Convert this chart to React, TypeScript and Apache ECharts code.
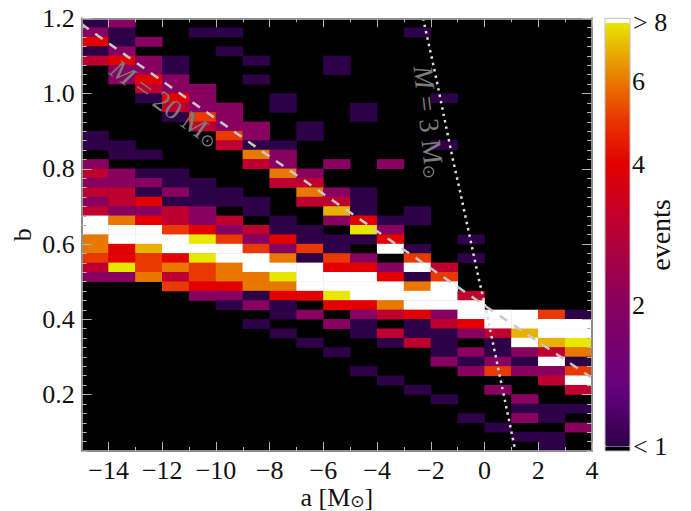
import React, { useEffect, useRef } from "react";
import * as echarts from "echarts";

const aBins = [-15, -14, -13, -12, -11, -10, -9, -8, -7, -6, -5, -4, -3, -2, -1, 0, 1, 2, 3];
const bBins = ["1.175", "1.150", "1.125", "1.100", "1.075", "1.050", "1.025", "1.000", "0.975", "0.950", "0.925", "0.900", "0.875", "0.850", "0.825", "0.800", "0.775", "0.750", "0.725", "0.700", "0.675", "0.650", "0.625", "0.600", "0.575", "0.550", "0.525", "0.500", "0.475", "0.450", "0.425", "0.400", "0.375", "0.350", "0.325", "0.300", "0.275", "0.250", "0.225", "0.200", "0.175", "0.150", "0.125", "0.100", "0.075", "0.050"];
// events per cell, top row first; 9 stands for "> 8", 0 for "< 1"
const events = [
  [1, 2, 0, 0, 0, 0, 0, 0, 0, 0, 0, 0, 0, 0, 0, 0, 0, 0, 0],
  [2, 1, 0, 0, 1, 1, 0, 0, 0, 0, 0, 0, 1, 0, 0, 0, 0, 0, 0],
  [4, 1, 2, 0, 0, 0, 0, 0, 0, 0, 0, 0, 0, 0, 0, 0, 0, 0, 0],
  [1, 2, 0, 0, 0, 1, 0, 0, 0, 0, 0, 0, 0, 0, 0, 0, 0, 0, 0],
  [3, 4, 2, 1, 0, 0, 1, 0, 0, 1, 0, 0, 0, 0, 0, 0, 0, 0, 0],
  [0, 2, 2, 1, 0, 0, 0, 0, 0, 1, 0, 0, 0, 0, 0, 0, 0, 0, 0],
  [0, 2, 4, 2, 0, 0, 1, 0, 0, 0, 0, 0, 0, 0, 0, 0, 0, 0, 0],
  [0, 0, 3, 2, 2, 0, 0, 0, 0, 0, 0, 0, 0, 0, 0, 0, 0, 0, 0],
  [0, 0, 1, 4, 2, 0, 0, 1, 0, 0, 0, 0, 0, 1, 0, 0, 0, 0, 0],
  [0, 0, 0, 3, 2, 2, 0, 1, 0, 0, 1, 0, 0, 0, 0, 0, 0, 0, 0],
  [0, 0, 0, 1, 5, 2, 0, 0, 0, 0, 1, 0, 0, 0, 0, 0, 0, 0, 0],
  [0, 0, 0, 0, 3, 2, 2, 0, 1, 0, 0, 0, 0, 0, 0, 0, 0, 0, 0],
  [1, 0, 0, 0, 0, 5, 2, 0, 1, 0, 0, 0, 0, 0, 0, 0, 0, 0, 0],
  [1, 1, 0, 0, 0, 3, 1, 1, 0, 0, 0, 0, 0, 1, 0, 0, 0, 0, 0],
  [0, 1, 1, 0, 0, 0, 6, 2, 0, 0, 0, 0, 0, 0, 0, 0, 0, 0, 0],
  [2, 0, 0, 0, 0, 0, 3, 2, 0, 2, 0, 2, 0, 0, 0, 0, 0, 0, 0],
  [3, 2, 1, 1, 0, 0, 0, 6, 2, 0, 0, 0, 0, 0, 0, 0, 0, 0, 0],
  [2, 2, 2, 1, 1, 0, 0, 3, 3, 0, 0, 0, 0, 0, 0, 0, 0, 0, 0],
  [3, 3, 1, 2, 1, 1, 0, 0, 6, 2, 1, 0, 0, 0, 0, 0, 0, 0, 0],
  [2, 3, 4, 1, 1, 1, 1, 0, 3, 3, 1, 0, 0, 0, 0, 0, 0, 0, 0],
  [3, 2, 2, 3, 2, 0, 1, 0, 0, 7, 1, 0, 1, 0, 0, 0, 0, 0, 0],
  [9, 6, 4, 3, 2, 3, 0, 1, 0, 2, 4, 1, 1, 0, 0, 0, 0, 0, 0],
  [9, 9, 9, 5, 4, 2, 3, 1, 1, 0, 8, 2, 0, 0, 0, 0, 0, 0, 0],
  [6, 9, 9, 9, 8, 5, 2, 4, 1, 1, 1, 4, 0, 0, 1, 0, 0, 0, 0],
  [6, 4, 7, 9, 9, 9, 5, 2, 5, 1, 0, 9, 1, 0, 0, 0, 0, 0, 0],
  [5, 4, 5, 4, 8, 9, 9, 6, 1, 5, 2, 0, 5, 0, 1, 0, 0, 0, 0],
  [3, 8, 5, 6, 5, 6, 9, 9, 9, 4, 4, 2, 9, 3, 0, 0, 0, 0, 0],
  [2, 2, 6, 3, 5, 6, 6, 8, 9, 9, 9, 4, 1, 5, 0, 0, 0, 0, 0],
  [0, 0, 0, 5, 4, 4, 6, 6, 9, 9, 9, 9, 6, 9, 0, 0, 0, 0, 0],
  [0, 0, 0, 0, 2, 2, 1, 4, 4, 8, 9, 9, 9, 9, 3, 0, 0, 0, 0],
  [0, 0, 0, 0, 0, 1, 2, 1, 0, 4, 4, 6, 9, 9, 9, 0, 0, 0, 0],
  [0, 0, 0, 0, 0, 0, 0, 1, 2, 0, 2, 3, 4, 2, 9, 9, 9, 5, 1],
  [0, 0, 0, 0, 0, 0, 1, 0, 0, 2, 1, 0, 1, 3, 4, 9, 9, 9, 9],
  [0, 0, 0, 0, 0, 0, 0, 1, 0, 0, 1, 3, 1, 1, 2, 3, 7, 9, 9],
  [0, 0, 0, 0, 0, 0, 0, 0, 1, 0, 0, 1, 3, 1, 0, 1, 9, 7, 8],
  [0, 0, 0, 0, 0, 0, 0, 0, 0, 1, 0, 0, 0, 1, 2, 1, 2, 3, 6],
  [0, 0, 0, 0, 0, 0, 0, 0, 0, 0, 0, 0, 0, 2, 1, 2, 1, 9, 1],
  [0, 0, 0, 0, 0, 0, 0, 0, 0, 0, 1, 0, 0, 0, 2, 5, 2, 2, 5],
  [0, 0, 0, 0, 0, 0, 0, 0, 0, 0, 0, 1, 0, 0, 0, 0, 0, 3, 9],
  [0, 0, 0, 0, 0, 0, 0, 0, 0, 0, 0, 0, 1, 0, 0, 2, 0, 0, 3],
  [0, 0, 0, 0, 0, 0, 0, 0, 0, 0, 0, 0, 0, 1, 0, 0, 2, 0, 0],
  [0, 0, 0, 0, 0, 0, 0, 0, 0, 0, 0, 0, 0, 0, 0, 0, 1, 1, 1],
  [0, 0, 0, 0, 0, 0, 0, 0, 0, 0, 0, 0, 0, 0, 1, 0, 2, 1, 0],
  [0, 0, 0, 0, 0, 0, 0, 0, 0, 0, 0, 0, 0, 0, 0, 1, 0, 0, 2],
  [0, 0, 0, 0, 0, 0, 0, 0, 0, 0, 0, 0, 0, 0, 0, 0, 1, 1, 0],
  [0, 0, 0, 0, 0, 0, 0, 0, 0, 0, 0, 0, 0, 0, 0, 0, 0, 1, 0],
];
const line20 = [[-15, 1.186], [-14.88, 1.178], [-8.25, 0.845], [-5.31, 0.699], [-0.03, 0.438], [4, 0.244]];
const line3 = [[-2.29, 1.2], [-1.84, 1.054], [-1.19, 0.828], [-0.91, 0.739], [-0.22, 0.509], [0.03, 0.433], [0.65, 0.221], [1.14, 0.053], [1.15, 0.05]];
const aMajor = [-14, -12, -10, -8, -6, -4, -2, 0, 2, 4];
const aMinor = [-13, -11, -9, -7, -5, -3, -1, 1, 3];
const bMajor = [0.2, 0.4, 0.6, 0.8, 1.0, 1.2];
const bMinor = bBins.map(Number).filter((v) => Math.abs(v * 5 - Math.round(v * 5)) > 1e-6);
const barMajor = [2, 4, 6];
const barMinor = [3, 5, 7];
// colour anchors along log2(events): 0..3
const ramp: [number, number[]][] = [
  [0, [46, 0, 72]], [0.4, [100, 0, 125]], [1, [136, 0, 96]], [1.585, [190, 0, 48]],
  [2, [226, 0, 0]], [2.32, [232, 56, 0]], [2.585, [232, 120, 0]], [2.807, [232, 176, 0]], [3, [232, 232, 0]],
];

const SERIF = "Liberation Serif, DejaVu Serif, serif";
const FS = 26;
const GRID = { left: 81.7, top: 18.3, width: 510.3, height: 432.7 };
const BAR = { left: 605, right: 630, top: 18.3, bottom: 451, t8: 22.7, t1: 446.7 };
const TICK = "#b4b4b4";
const LOG_MAX = 3.002;

function sampleRamp(n: number) {
  const out: string[] = [];
  for (let i = 0; i < n; i++) {
    const t = (3 * i) / (n - 1);
    let k = 0;
    while (k < ramp.length - 2 && ramp[k + 1][0] < t) k++;
    const [t0, c0] = ramp[k];
    const [t1, c1] = ramp[k + 1];
    const f = (t - t0) / (t1 - t0);
    out.push(`rgb(${c0.map((c, j) => Math.round(c + (c1[j] - c) * f)).join(",")})`);
  }
  return out;
}

const barY = (v: number) => BAR.t1 - (Math.log2(v) / 3) * (BAR.t1 - BAR.t8);

export default function App() {
  const ref = useRef<HTMLDivElement>(null);
  useEffect(() => {
    const chart = echarts.init(ref.current!, undefined, { renderer: "svg" });
    const cells: number[][] = [];
    events.forEach((row, r) =>
      row.forEach((v, c) => {
        if (v > 0) cells.push([c, r, v, Math.log2(v)]);
      })
    );
    const tickAxis = (position: string, min: number, max: number, values: number[], len: number, extra: any = {}) => ({
      type: "value",
      position,
      min,
      max,
      z: 5,
      splitLine: { show: false },
      axisLine: { show: false, onZero: false },
      axisTick: { show: true, inside: true, length: len, customValues: values, lineStyle: { color: TICK, width: 1 } },
      axisLabel: { show: false, customValues: values },
      ...extra,
    });
    const labelStyle = { show: true, color: "#111", fontFamily: SERIF, fontSize: FS };
    const framed = { axisLine: { show: true, onZero: false, lineStyle: { color: "#8c8c8c", width: 2 } } };
    const barLines: any[] = [];
    const addDash = (v: number, len: number) => {
      const y = barY(v);
      barLines.push(
        { type: "line", shape: { x1: BAR.left, y1: y, x2: BAR.left + len, y2: y }, style: { stroke: TICK, lineWidth: 1 } },
        { type: "line", shape: { x1: BAR.right - len, y1: y, x2: BAR.right, y2: y }, style: { stroke: TICK, lineWidth: 1 } }
      );
    };
    barMajor.forEach((v) => addDash(v, 9));
    barMinor.forEach((v) => addDash(v, 5));
    const barText = (text: string, x: number, y: number) => ({
      type: "text",
      x,
      y,
      style: { text, fill: "#111", font: `${FS}px ${SERIF}`, textAlign: "left", textVerticalAlign: "middle" },
    });
    const note = (text: string, x: number, y: number, deg: number) => ({
      type: "text",
      x,
      y,
      rotation: (-deg * Math.PI) / 180,
      z: 20,
      style: {
        text,
        fill: "#7c7c7c",
        font: `28px ${SERIF}`,
        textAlign: "center",
        textVerticalAlign: "middle",
        rich: {
          i: { fontFamily: SERIF, fontStyle: "italic", fontSize: 28, fill: "#7c7c7c" },
          s: { fontFamily: "DejaVu Sans", fontSize: 17, fill: "#7c7c7c", padding: [10, 0, 0, 0] },
        },
      },
    });
    chart.setOption({
      animation: false,
      backgroundColor: "#fff",
      grid: { ...GRID, show: true, backgroundColor: "#000", borderWidth: 0, containLabel: false, outerBoundsMode: "none" },
      xAxis: [
        { type: "category", data: aBins, show: false, position: "bottom" },
        tickAxis("bottom", -15, 4, aMajor, 9, {
          ...framed,
          name: "{t|a [M}{s|⊙}{t|]}",
          nameLocation: "middle",
          nameGap: 33,
          nameMoveOverlap: false,
          nameTextStyle: {
            rich: {
              t: { fontFamily: SERIF, fontSize: FS, color: "#111" },
              s: { fontFamily: "DejaVu Sans", fontSize: 17, color: "#111", padding: [8, 0, 0, 0] },
            },
          },
          axisLabel: {
            ...labelStyle,
            margin: 6,
            customValues: aMajor,
            formatter: (v: number) => String(v).replace("-", "\u2212"),
          },
        }),
        tickAxis("top", -15, 4, aMajor, 9, framed),
        tickAxis("bottom", -15, 4, aMinor, 4),
        tickAxis("top", -15, 4, aMinor, 4),
      ],
      yAxis: [
        { type: "category", data: bBins, inverse: true, show: false, position: "left" },
        tickAxis("left", 0.05, 1.2, bMajor, 10, {
          ...framed,
          name: "b",
          nameLocation: "middle",
          nameGap: 46,
          nameRotate: 90,
          nameMoveOverlap: false,
          nameTextStyle: { fontFamily: SERIF, fontSize: FS, color: "#111" },
          axisLabel: {
            ...labelStyle,
            margin: 7,
            customValues: bMajor,
            formatter: (v: number) => v.toFixed(1),
          },
        }),
        tickAxis("right", 0.05, 1.2, bMajor, 10, framed),
        tickAxis("left", 0.05, 1.2, bMinor, 5),
        tickAxis("right", 0.05, 1.2, bMinor, 5),
      ],
      visualMap: {
        type: "continuous",
        seriesIndex: 0,
        dimension: 3,
        min: 0,
        max: LOG_MAX,
        range: [0, 3],
        calculable: false,
        hoverLink: false,
        realtime: false,
        left: BAR.left,
        top: BAR.t8,
        itemWidth: BAR.right - BAR.left,
        itemHeight: BAR.t1 - BAR.t8,
        padding: 0,
        borderWidth: 0,
        inRange: { color: sampleRamp(64) },
        outOfRange: { color: "#ffffff" },
      },
      series: [
        {
          type: "heatmap",
          xAxisIndex: 0,
          yAxisIndex: 0,
          data: cells,
          encode: { x: 0, y: 1, value: 2 },
          silent: true,
          itemStyle: { borderWidth: 0 },
          emphasis: { disabled: true },
        },
        {
          type: "line",
          xAxisIndex: 1,
          yAxisIndex: 1,
          data: line20,
          symbol: "none",
          silent: true,
          z: 4,
          lineStyle: { color: "#c8c8c8", width: 2.5, type: [9, 8] },
        },
        {
          type: "line",
          xAxisIndex: 1,
          yAxisIndex: 1,
          data: line3,
          symbol: "none",
          silent: true,
          z: 4,
          lineStyle: { color: "#dcdcdc", width: 2.5, type: [2.5, 4] },
        },
      ],
      graphic: [
        { type: "rect", shape: { x: BAR.left, y: BAR.top, width: 25, height: BAR.t8 - BAR.top }, style: { fill: "#fff" } },
        { type: "rect", shape: { x: BAR.left, y: BAR.t1, width: 25, height: BAR.bottom - BAR.t1 }, style: { fill: "#000" } },
        ...barLines,
        { type: "rect", z: 10, shape: { x: BAR.left, y: BAR.top, width: 25, height: BAR.bottom - BAR.top }, style: { fill: "none", stroke: "#bdbdbd", lineWidth: 1 } },
        barText("> 8", 633, BAR.t8),
        barText("6", 632, barY(6)),
        barText("4", 632, barY(4)),
        barText("2", 632, barY(2)),
        barText("< 1", 633, BAR.t1),
        { type: "text", x: 660, y: 235, rotation: Math.PI / 2, style: { text: "events", fill: "#111", font: `${FS + 2}px ${SERIF}`, textAlign: "center", textVerticalAlign: "middle" } },
        note("{i|M} = 20 M{s|⊙}", 165, 103, 36),
        note("{i|M} = 3 M{s|⊙}", 429, 122, 84),
      ],
    });
    return () => chart.dispose();
  }, []);
  return <div ref={ref} style={{ position: "absolute", left: 0, top: 0, width: 691, height: 511 }} />;
}
